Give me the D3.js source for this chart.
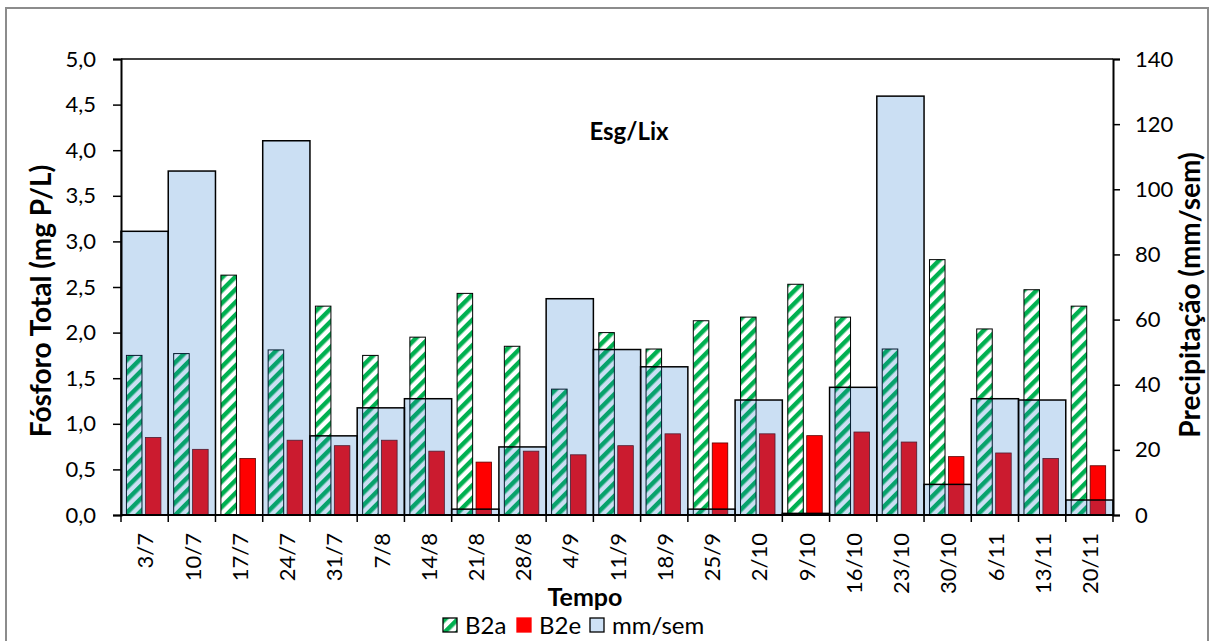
<!DOCTYPE html>
<html>
<head>
<meta charset="utf-8">
<script src="https://cdn.jsdelivr.net/npm/d3@7"></script>
<style>
  body { margin: 0; background: #fff; }
  svg { display: block; font-family: Lato, "Open Sans", sans-serif; }
</style>
</head>
<body>
<div id="grafico"></div>
<script>
// dados (semanas de julho a novembro)
const semanas = ['3/7', '10/7', '17/7', '24/7', '31/7', '7/8', '14/8', '21/8', '28/8', '4/9', '11/9',
                 '18/9', '25/9', '2/10', '9/10', '16/10', '23/10', '30/10', '6/11', '13/11', '20/11'];
const b2a = [1.75, 1.77, 2.63, 1.81, 2.29, 1.75, 1.95, 2.43, 1.85, 1.38, 2.00,
             1.82, 2.13, 2.17, 2.53, 2.17, 1.82, 2.80, 2.04, 2.47, 2.29];
const b2e = [0.85, 0.72, 0.62, 0.82, 0.76, 0.82, 0.70, 0.58, 0.70, 0.66, 0.76,
             0.89, 0.79, 0.89, 0.87, 0.91, 0.80, 0.64, 0.68, 0.62, 0.54];
// precipitação semanal (mm/sem), eixo da direita
const precip = [87.1, 105.6, 0, 114.9, 24.3, 32.9, 35.7, 1.8, 20.9, 66.4, 50.8,
                45.5, 1.8, 35.3, 0.5, 39.2, 128.6, 9.4, 35.7, 35.3, 4.6];
const ticksEsq = [0, 0.5, 1, 1.5, 2, 2.5, 3, 3.5, 4, 4.5, 5];
const ticksDir = [0, 20, 40, 60, 80, 100, 120, 140];
const series = ['B2a', 'B2e'];
const legendaItens = ['B2a', 'B2e', 'mm/sem'];

const W = 1210, H = 641;
const area = { left: 121, right: 1113, top: 59, bottom: 515 };

const svg = d3.select('#grafico').append('svg')
    .attr('width', W)
    .attr('height', H);

// padrão listrado verde (diagonal para cima)
const defs = svg.append('defs');
const pat = defs.append('pattern')
    .attr('id', 'listras')
    .attr('patternUnits', 'userSpaceOnUse')
    .attr('width', 9).attr('height', 9)
    .attr('patternTransform', 'rotate(45)');
pat.append('rect').attr('width', 9).attr('height', 9).attr('fill', '#fff');
pat.append('rect').attr('width', 4.5).attr('height', 9).attr('fill', '#00b050');

// moldura cinza do gráfico
svg.append('rect')
    .attr('x', 6).attr('y', 8)
    .attr('width', 1202).attr('height', 650)
    .attr('fill', '#fff')
    .attr('stroke', '#8c8c8c')
    .attr('stroke-width', 2);

const x = d3.scaleBand()
    .domain(semanas)
    .range([area.left, area.right])
    .padding(0);
const bw = x.bandwidth();

const x1 = d3.scaleBand()
    .domain(series)
    .range([bw * 0.115, bw * 0.845])
    .paddingInner(0.18);

const yEsq = d3.scaleLinear().domain([0, 5]).range([area.bottom, area.top]);
const yDir = d3.scaleLinear().domain([0, 140]).range([area.bottom, area.top]);

const g = svg.append('g');

// barras B2a (listradas)
g.append('g')
    .selectAll('rect')
    .data(b2a)
    .join('rect')
    .attr('x', (d, i) => x(semanas[i]) + x1('B2a'))
    .attr('y', d => yEsq(d))
    .attr('width', x1.bandwidth())
    .attr('height', d => yEsq(0) - yEsq(d))
    .attr('fill', 'url(#listras)')
    .attr('stroke', '#000')
    .attr('stroke-width', 1);

// barras B2e (vermelhas)
g.append('g')
    .selectAll('rect')
    .data(b2e)
    .join('rect')
    .attr('x', (d, i) => x(semanas[i]) + x1('B2e'))
    .attr('y', d => yEsq(d))
    .attr('width', x1.bandwidth())
    .attr('height', d => yEsq(0) - yEsq(d))
    .attr('fill', '#ff0000')
    .attr('stroke', '#5a0000')
    .attr('stroke-width', 0.8);

// precipitação: barras largas semi-transparentes por cima
g.append('g')
    .selectAll('rect')
    .data(precip)
    .join('rect')
    .attr('x', (d, i) => x(semanas[i]))
    .attr('y', d => yDir(d))
    .attr('width', bw)
    .attr('height', d => yDir(0) - yDir(d))
    .attr('fill', 'rgba(30,115,205,0.23)')
    .attr('stroke', '#000')
    .attr('stroke-width', 1.5);

// linha superior da área
svg.append('line')
    .attr('x1', area.left).attr('x2', area.right)
    .attr('y1', area.top).attr('y2', area.top)
    .attr('stroke', '#000').attr('stroke-width', 1.3);

// eixos
const eixoEsq = svg.append('g')
    .attr('transform', `translate(${area.left},0)`)
    .call(d3.axisLeft(yEsq).tickValues(ticksEsq).tickSize(8).tickPadding(17)
        .tickFormat(d => d3.format('.1f')(d).replace('.', ',')));

const eixoDir = svg.append('g')
    .attr('transform', `translate(${area.right},0)`)
    .call(d3.axisRight(yDir).tickValues(ticksDir).tickSize(7).tickPadding(15));

const eixoX = svg.append('g')
    .attr('transform', `translate(0,${area.bottom})`)
    .call(d3.axisBottom(x).tickSize(0).tickPadding(0));

[eixoEsq, eixoDir, eixoX].forEach(e => {
    e.select('.domain').attr('stroke', '#000').attr('stroke-width', 2);
    e.selectAll('.tick line').attr('stroke', '#000').attr('stroke-width', 1.5);
    e.selectAll('.tick text')
        .attr('fill', '#000')
        .style('font-size', '22px')
        .style('font-family', 'Lato, sans-serif');
});
eixoX.select('.domain').attr('d', `M${area.left},0H${area.right}`);

// rótulos das semanas rodados
eixoX.selectAll('.tick text')
    .attr('transform', 'rotate(-90)')
    .attr('text-anchor', 'end')
    .attr('x', -18)
    .attr('y', 1)
    .attr('dy', '0.35em');

// marcas nos limites de cada semana
eixoX.append('g')
    .selectAll('line')
    .data(d3.range(semanas.length + 1))
    .join('line')
    .attr('x1', i => area.left + i * bw)
    .attr('x2', i => area.left + i * bw)
    .attr('y1', 0).attr('y2', 7)
    .attr('stroke', '#000').attr('stroke-width', 1.5);

// títulos
svg.append('text')
    .attr('transform', `translate(51,301) rotate(-90)`)
    .attr('text-anchor', 'middle')
    .style('font-size', '28px').style('font-weight', 'bold')
    .text('Fósforo Total (mg P/L)');

svg.append('text')
    .attr('transform', `translate(1200,295) rotate(-90)`)
    .attr('text-anchor', 'middle')
    .style('font-size', '28px').style('font-weight', 'bold')
    .text('Precipitação (mm/sem)');

svg.append('text')
    .attr('x', 585).attr('y', 606)
    .attr('text-anchor', 'middle')
    .style('font-size', '25px').style('font-weight', 'bold')
    .text('Tempo');

svg.append('text')
    .attr('x', 629).attr('y', 140)
    .attr('text-anchor', 'middle')
    .style('font-size', '24px').style('font-weight', 'bold')
    .text('Esg/Lix');

// legenda
const legPos = [443, 517, 590];
const legFill = ['url(#listras)', '#ff0000', 'rgb(206,225,245)'];
const leg = svg.append('g');
legendaItens.forEach((nome, i) => {
    const item = leg.append('g').attr('transform', `translate(${legPos[i]},618)`);
    item.append('rect')
        .attr('width', 14).attr('height', 14)
        .attr('fill', legFill[i])
        .attr('stroke', i === 1 ? '#ff0000' : '#000')
        .attr('stroke-width', 1.3);
    item.append('text')
        .attr('x', 22).attr('y', 16)
        .style('font-size', '24px')
        .text(nome);
});
</script>
</body>
</html>
